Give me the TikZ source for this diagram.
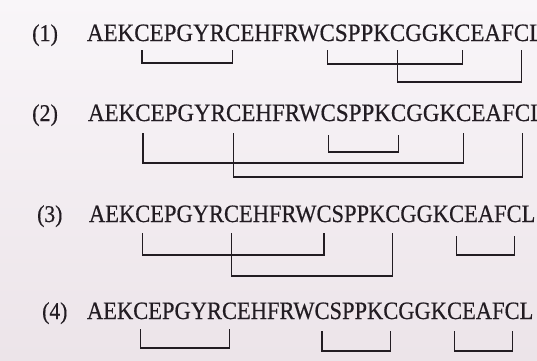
\documentclass[tikz,border=0pt]{standalone}
\usepackage{fontspec}
\usepackage{graphicx}
\setmainfont{Liberation Serif}
\newfontfamily\seqfont[FakeBold=0.5]{Liberation Serif}
\definecolor{paper}{RGB}{236,228,233}
\definecolor{papertop}{RGB}{249,246,249}
\definecolor{ink}{RGB}{34,28,34}
\def\seqscale{0.92}
\newcommand\sq[1]{\scalebox{\seqscale}[1]{#1}}
\tikzset{
  seq/.style={inner sep=0pt, outer sep=0pt, anchor=base west, text=ink,
              font=\seqfont\fontsize{25}{29}\selectfont},
  lbl/.style={inner sep=0pt, anchor=base west, text=ink,
              font=\seqfont\fontsize{24}{28}\selectfont},
  bond/.style={draw=ink, line width=1.2pt, line join=miter}
}
\newcommand\pepseq[3]{%
  \node[seq] (#1p0) at (#2,#3) {\sq{AEK}};
  \node[seq] (#1c1) at (#1p0.base east) {\sq{C}};
  \node[seq] (#1p1) at (#1c1.base east) {\sq{EPGYR}};
  \node[seq] (#1c2) at (#1p1.base east) {\sq{C}};
  \node[seq] (#1p2) at (#1c2.base east) {\sq{EHFRW}};
  \node[seq] (#1c3) at (#1p2.base east) {\sq{C}};
  \node[seq] (#1p3) at (#1c3.base east) {\sq{SPPK}};
  \node[seq] (#1c4) at (#1p3.base east) {\sq{C}};
  \node[seq] (#1p4) at (#1c4.base east) {\sq{GGK}};
  \node[seq] (#1c5) at (#1p4.base east) {\sq{C}};
  \node[seq] (#1p5) at (#1c5.base east) {\sq{EAF}};
  \node[seq] (#1c6) at (#1p5.base east) {\sq{C}};
  \node[seq] (#1p6) at (#1c6.base east) {\sq{L}};
}
% \ssbond{from}{to}{top gap}{depth}
\newcommand\ssbond[4]{%
  \draw[bond] ([yshift=-#3pt]#1.base) -- ([yshift=-#4pt]#1.base) -| ([yshift=-#3pt]#2.base);
}
\begin{document}
\begin{tikzpicture}[x=1pt,y=-1pt]
  \shade[top color=papertop, bottom color=paper] (0,0) rectangle (537,360);
  \useasboundingbox (0,0) rectangle (537,360);
  % row 1
  \def\seqscale{0.92}
  \node[lbl] (l1) at (32,41) {\sq{(1)}};
  \pepseq{ra}{87}{41}
  \ssbond{rac1}{rac2}{9}{22}
  \ssbond{rac3}{rac5}{9}{23}
  \ssbond{rac4}{rac6}{9}{41}
  % row 2
  \node[lbl] (l2) at (32,121) {\sq{(2)}};
  \pepseq{rb}{88}{121}
  \ssbond{rbc3}{rbc4}{14}{31}
  \ssbond{rbc1}{rbc5}{12}{42}
  \ssbond{rbc2}{rbc6}{12}{56}
  % row 3
  \def\seqscale{0.9}
  \node[lbl] (l3) at (37,222) {\sq{(3)}};
  \pepseq{rc}{89}{222}
  \ssbond{rcc1}{rcc3}{11}{33}
  \ssbond{rcc2}{rcc4}{11}{54}
  \ssbond{rcc5}{rcc6}{14}{33}
  % row 4
  \node[lbl] (l4) at (42,319) {\sq{(4)}};
  \pepseq{rd}{87}{319}
  \ssbond{rdc1}{rdc2}{10}{29}
  \ssbond{rdc3}{rdc4}{12}{32}
  \ssbond{rdc5}{rdc6}{12}{32}
\end{tikzpicture}
\end{document}
